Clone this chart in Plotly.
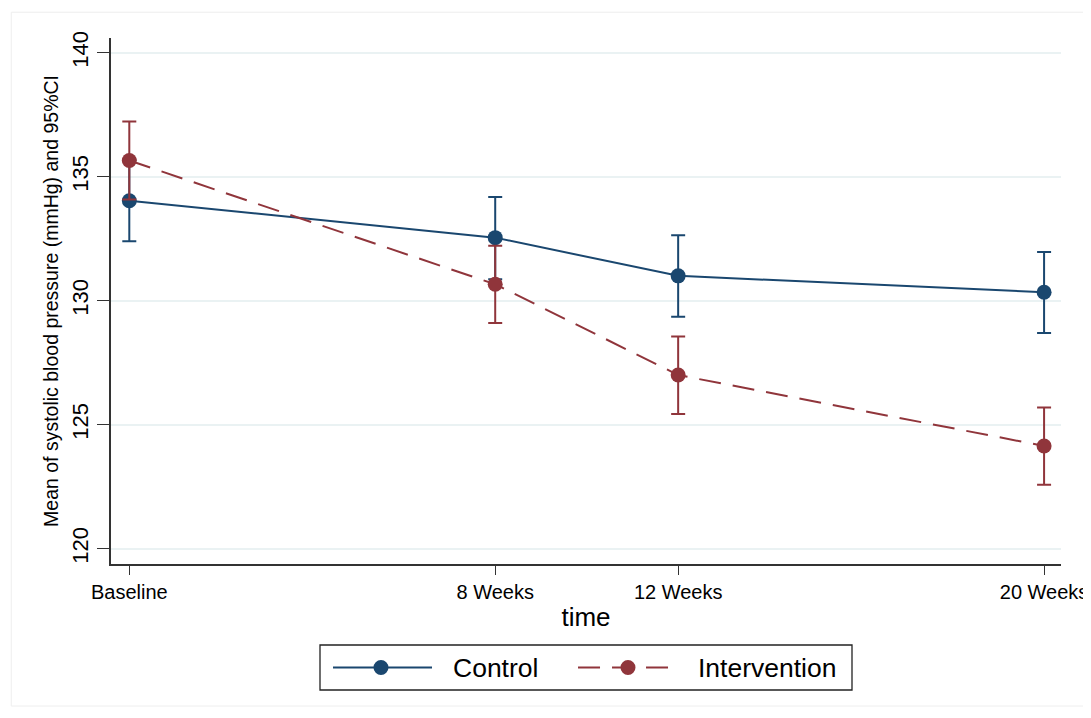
import plotly.graph_objects as go

# ---- data ----
time_weeks = [0, 8, 12, 20]
time_labels = ["Baseline", "8 Weeks", "12 Weeks", "20 Weeks"]

control_mean = [134.03, 132.54, 131.00, 130.34]
control_lo = [132.39, 130.86, 129.35, 128.69]
control_hi = [135.67, 134.18, 132.64, 131.96]

interv_mean = [135.65, 130.66, 127.00, 124.14]
interv_lo = [134.08, 129.10, 125.43, 122.58]
interv_hi = [137.22, 132.21, 128.55, 125.69]

y_ticks = [120, 125, 130, 135, 140]

series_names = ["Control", "Intervention"]

NAVY = "#1a476f"
MAROON = "#90353b"
FONT = "Liberation Sans, Arial, sans-serif"
DASH = "22px,12px"

fig = go.Figure()

def add_series(name, mean, lo, hi, color, dash):
    fig.add_trace(go.Scatter(
        x=time_weeks, y=mean, name=name, mode="lines+markers", showlegend=False,
        line=dict(color=color, width=2, dash=dash),
        marker=dict(color=color, size=15),
        error_y=dict(type="data", symmetric=False,
                     array=[h - m for h, m in zip(hi, mean)],
                     arrayminus=[m - l for m, l in zip(mean, lo)],
                     color=color, thickness=2, width=7),
    ))

add_series(series_names[0], control_mean, control_lo, control_hi, NAVY, "solid")
add_series(series_names[1], interv_mean, interv_lo, interv_hi, MAROON, DASH)

# faint outer frame
fig.add_shape(type="rect", xref="paper", yref="paper",
              x0=-0.105, x1=1.028, y0=-0.27, y1=1.049,
              line=dict(color="#eeeeee", width=1), fillcolor="rgba(0,0,0,0)", layer="below")

# ---- hand-drawn legend (Stata style, long key lines) ----
LEG_Y = -0.1968
fig.add_shape(type="rect", xref="paper", yref="paper", x0=0.22, x1=0.78, y0=-0.2395, y1=-0.154,
              line=dict(color="#222222", width=1.3), fillcolor="white")
legend_items = [
    (series_names[0], NAVY, "solid", 0.2337, 0.3379, 0.2842, 0.3579),
    (series_names[1], MAROON, DASH, 0.4916, 0.5989, 0.5442, 0.6158),
]
for name, color, dash, lx0, lx1, mx, tx in legend_items:
    fig.add_shape(type="line", xref="paper", yref="paper", x0=lx0, x1=lx1, y0=LEG_Y, y1=LEG_Y,
                  line=dict(color=color, width=2, dash=dash))
    fig.add_shape(type="circle", xref="paper", yref="paper",
                  xsizemode="pixel", ysizemode="pixel", xanchor=mx, yanchor=LEG_Y,
                  x0=-7.5, x1=7.5, y0=-7.5, y1=7.5,
                  line=dict(color=color, width=0), fillcolor=color)
    fig.add_annotation(xref="paper", yref="paper", x=tx, y=LEG_Y, xanchor="left", yanchor="middle",
                       text=name, showarrow=False, font=dict(size=26.5, family=FONT, color="black"))

fig.update_layout(
    width=1083, height=710,
    margin=dict(l=103, r=30, t=30, b=154),
    paper_bgcolor="white", plot_bgcolor="white",
    font=dict(family=FONT, color="black"),
    showlegend=False,
    xaxis=dict(range=[-0.4, 20.37], tickmode="array", tickvals=time_weeks, ticktext=time_labels,
               automargin=False, ticklabeloverflow="allow",
               showgrid=False, zeroline=False, showline=True, linecolor="#333333", linewidth=1.5,
               ticks="outside", ticklen=9, tickcolor="#333333",
               tickfont=dict(size=20, family=FONT, color="black"),
               title=dict(text="time", font=dict(size=26, family=FONT, color="black"), standoff=6)),
    yaxis=dict(range=[119.38, 140.59], tickmode="array", tickvals=y_ticks, automargin=False,
               showgrid=True, gridcolor="#eaf2f3", gridwidth=1.5, zeroline=False,
               showline=True, linecolor="#333333", linewidth=1.5,
               ticks="outside", ticklen=12, tickcolor="#333333", tickangle=-90,
               tickfont=dict(size=22, family=FONT, color="black"),
               title=dict(text="Mean of systolic blood pressure (mmHg) and 95%CI",
                          font=dict(size=19.5, family=FONT, color="black"), standoff=5)),
)

fig.write_html("out.html")
